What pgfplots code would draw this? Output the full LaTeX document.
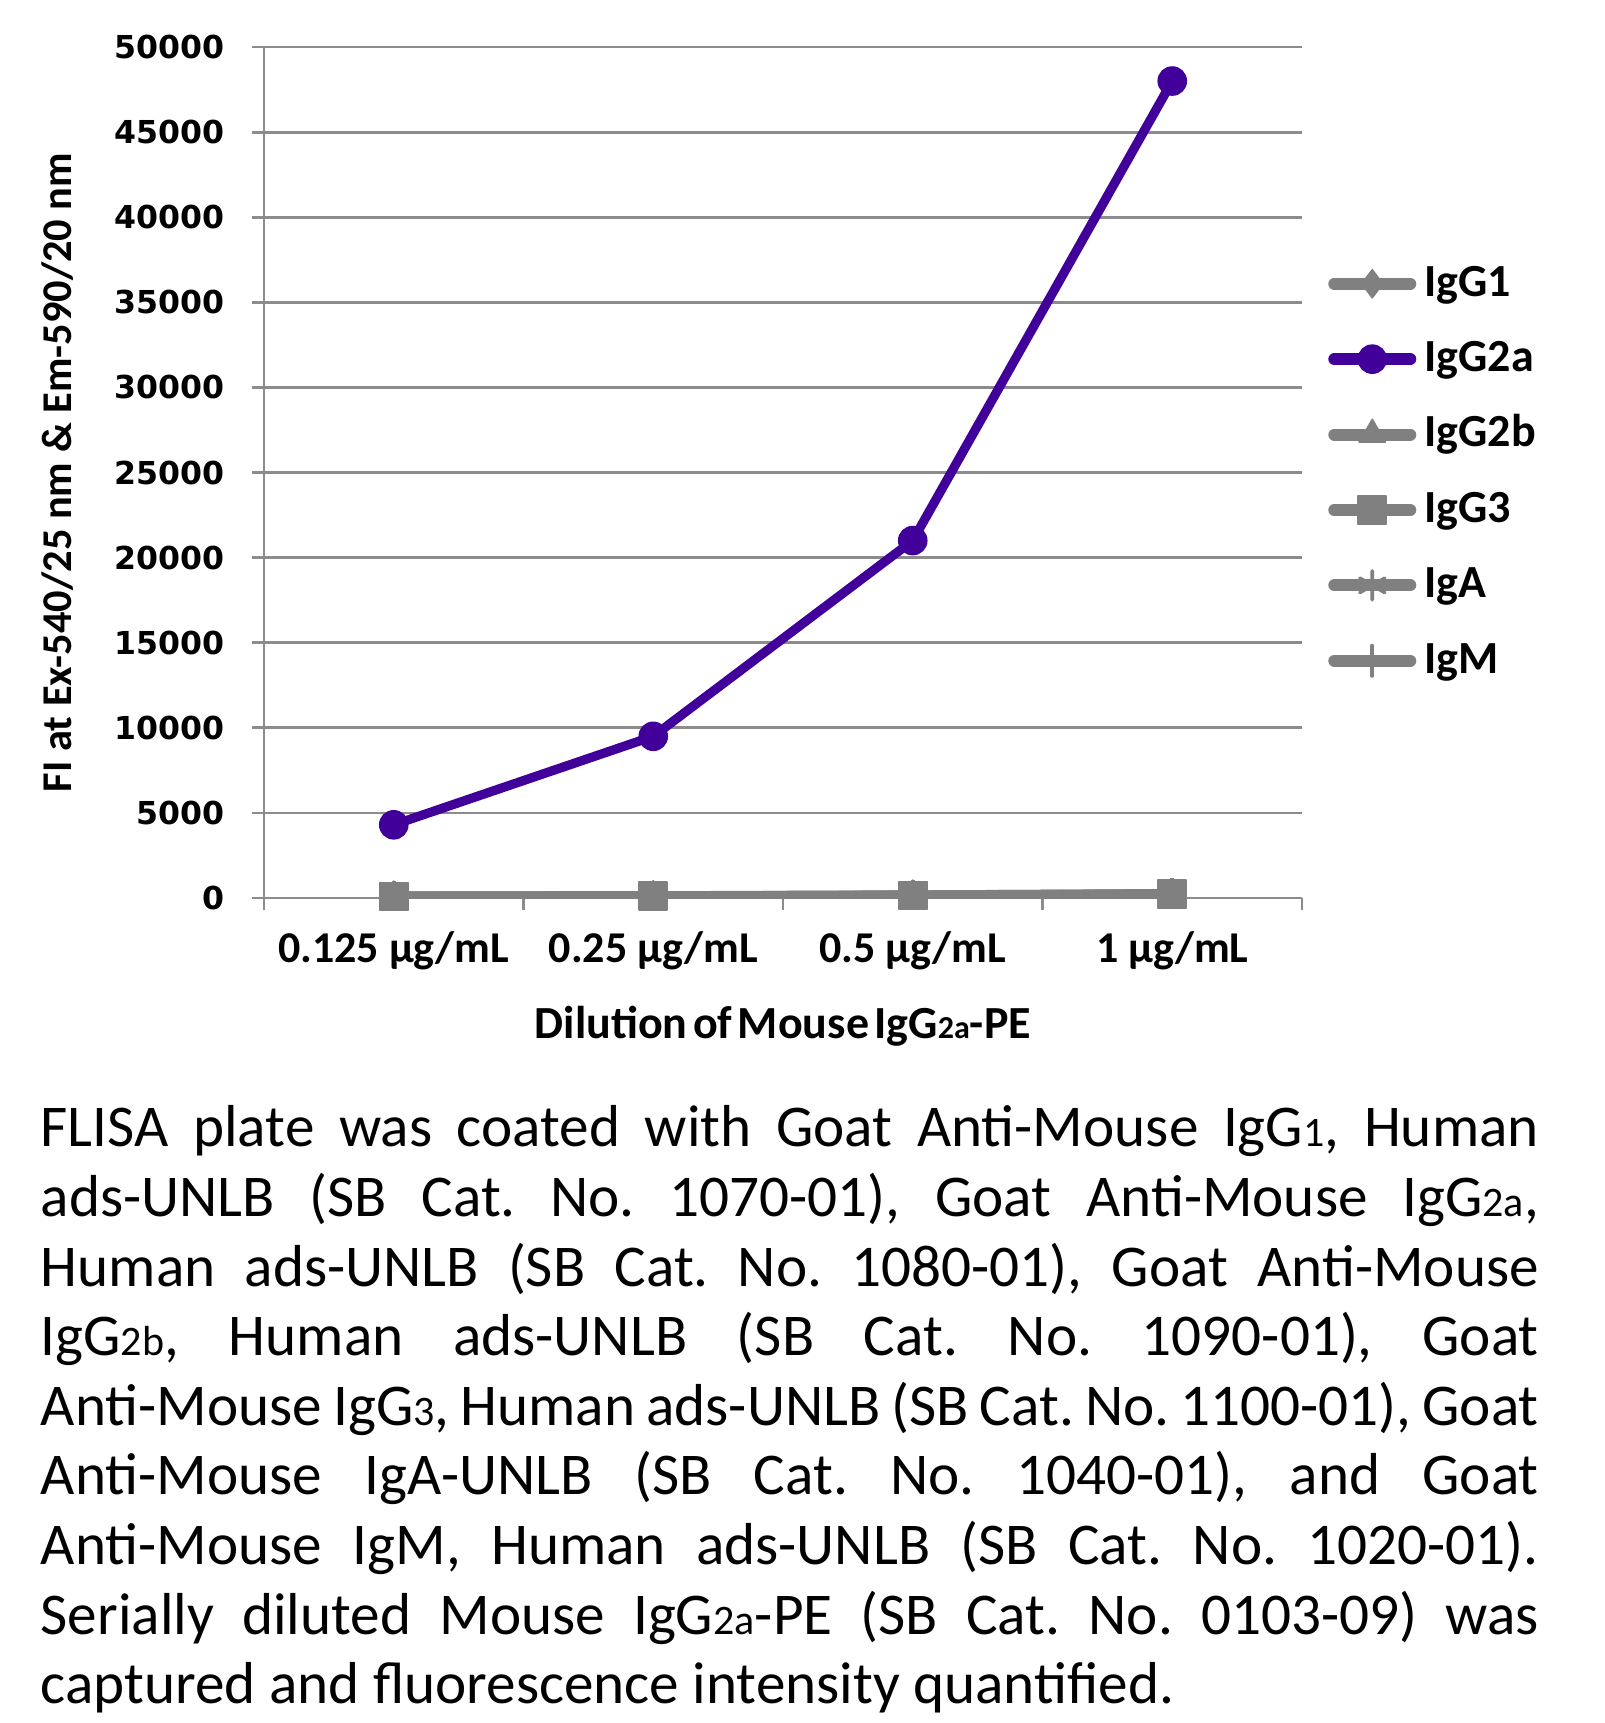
\documentclass[border=0pt]{standalone}
\usepackage{fontspec}
\setmainfont{Carlito}
\newfontfamily\tickfont{DejaVu Sans}
\usepackage{pgfplots}
\pgfplotsset{compat=1.18}
\definecolor{igpurple}{HTML}{400099}
\definecolor{iggray}{HTML}{808080}
\definecolor{gridgray}{HTML}{8C8C8C}
\newcommand{\sm}[1]{{\fontsize{10.5}{10}\selectfont #1}}
\newcommand{\ws}{\hspace{0.12em}}
\frenchspacing

\begin{document}
\begin{tikzpicture}
\path[use as bounding box] (-66pt,-206.25pt) rectangle (335.25pt,224.5pt);
\begin{axis}[
  width=259.5pt, height=212.75pt, scale only axis,
  xmin=-0.5, xmax=3.5, ymin=0, ymax=50000,
  axis x line*=bottom, axis y line*=left,
  axis line style={-, draw=gridgray, line width=0.7pt},
  ymajorgrids, major grid style={draw=gridgray, line width=0.7pt},
  tick align=outside, major tick length=3pt,
  tick style={draw=gridgray, line width=0.7pt},
  ytick={0,5000,...,50000}, scaled y ticks=false,
  /pgf/number format/1000 sep={},
  /pgf/number format/assume math mode=true,
  yticklabel style={font=\tickfont\bfseries\fontsize{7.9}{8}\selectfont, inner sep=0pt, xshift=-6.75pt},
  xtick={-0.5,0.5,1.5,2.5,3.5}, xticklabels={},
  extra x ticks={0,1,2,3},
  extra x tick labels={0.125 µg/mL, 0.25 µg/mL, 0.5 µg/mL, 1 µg/mL},
  extra x tick style={major tick length=0pt, grid=none},
  xticklabel style={font=\bfseries\fontsize{11}{11}\selectfont, anchor=base, inner sep=0pt, yshift=-16.25pt},
  xlabel={Dilution\ws of\ws Mouse\ws IgG{\fontsize{8}{8}\selectfont 2a}-PE},
  xlabel style={font=\bfseries\fontsize{11.5}{12}\selectfont, at={(axis description cs:0.5,0)}, anchor=base, yshift=-35pt, inner sep=0pt},
  ylabel={FI at Ex-540/25 nm \& Em-590/20 nm},
  ylabel style={font=\bfseries\fontsize{10.6}{12}\selectfont, at={(axis description cs:-0.185,0.5)}, anchor=base, inner sep=0pt},
  legend image code/.code={\draw[line width=3pt, line cap=round, mark repeat=2, mark phase=2] plot coordinates {(0pt,3.5pt) (9.5pt,3.5pt) (19pt,3.5pt)};},
  legend style={draw=none, fill=none, at={(1.013,0.76)}, anchor=north west,
    font=\bfseries\fontsize{11.5}{11.5}\selectfont, row sep=0pt, column sep=2pt,
    nodes={inner sep=0pt, text height=9pt, text depth=9.85pt}},
  legend cell align=left,
]
\addplot[color=iggray, line width=2.3pt, line join=round, mark=diamond*, mark size=3.5pt, mark options={line width=0.4pt}] coordinates {(0,120) (1,130) (2,180) (3,250)};
\addplot[color=igpurple, line width=2.3pt, line join=round, mark=*, mark size=3.5pt, mark options={line width=0.4pt}] coordinates {(0,4300) (1,9500) (2,21000) (3,48000)};
\addplot[color=iggray, line width=2.3pt, line join=round, mark=triangle*, mark size=3.8pt, mark options={line width=0.4pt}] coordinates {(0,100) (1,120) (2,160) (3,230)};
\addplot[color=iggray, line width=2.3pt, line join=round, mark=square*, mark size=3.5pt, mark options={line width=0.4pt}] coordinates {(0,90) (1,110) (2,150) (3,220)};
\addplot[color=iggray, line width=2.3pt, line join=round, mark=asterisk, mark size=3.6pt, mark options={line width=0.9pt}] coordinates {(0,100) (1,110) (2,150) (3,200)};
\addplot[color=iggray, line width=2.3pt, line join=round, mark=+, mark size=3.8pt, mark options={line width=0.9pt}] coordinates {(0,110) (1,120) (2,170) (3,260)};
\legend{IgG1,IgG2a,IgG2b,IgG3,IgA,IgM}
\end{axis}
\node[anchor=base west, text width=374.5pt, align=justify, inner sep=0pt,
  font=\fontsize{14.8}{17.4}\selectfont] at (-56pt,-62.25pt) {%
\tolerance=9999 \emergencystretch=20pt \hyphenpenalty=10000 \exhyphenpenalty=10000
FLISA plate was coated with Goat Anti-Mouse IgG\sm{1}, Human\linebreak
ads-UNLB (SB Cat. No. 1070-01), Goat Anti-Mouse IgG\sm{2a},\linebreak
Human ads-UNLB (SB Cat. No. 1080-01), Goat Anti-Mouse\linebreak
IgG\sm{2b}, Human ads-UNLB (SB Cat. No. 1090-01), Goat\linebreak
Anti-Mouse IgG\sm{3}, Human ads-UNLB (SB Cat. No. 1100-01), Goat\linebreak
Anti-Mouse IgA-UNLB (SB Cat. No. 1040-01), and Goat\linebreak
Anti-Mouse IgM, Human ads-UNLB (SB Cat. No. 1020-01).\linebreak
Serially diluted Mouse IgG\sm{2a}-PE (SB Cat. No. 0103-09) was\linebreak
captured and fluorescence intensity quantified.};
\end{tikzpicture}
\end{document}
